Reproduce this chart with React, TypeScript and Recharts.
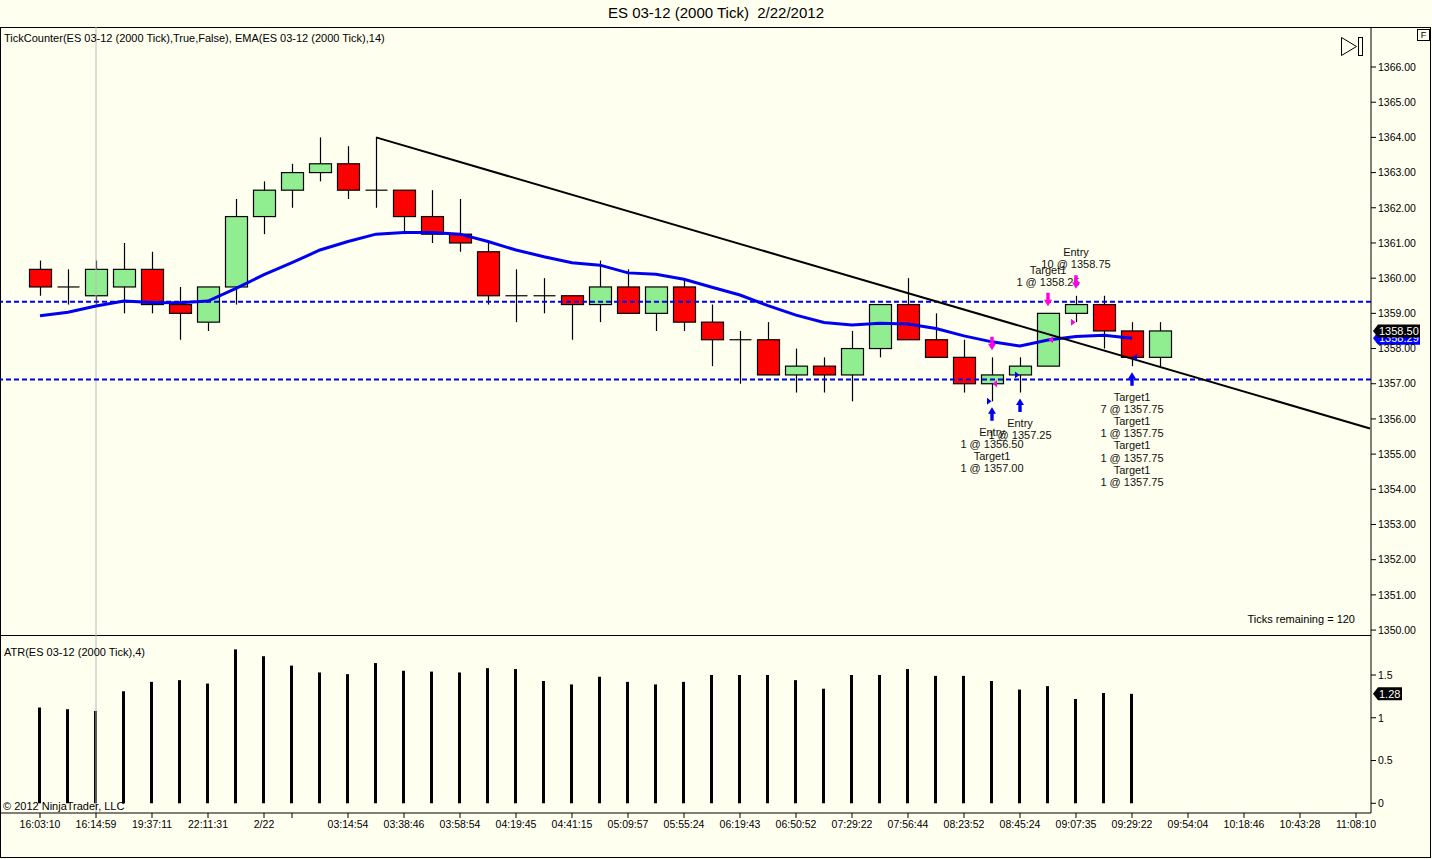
import React from 'react';
import { ComposedChart, Bar, Line, Scatter, XAxis, YAxis, ReferenceLine, ReferenceDot } from 'recharts';

// 2000 tick bars, ES 03-12
const opens = [
  1360.25, 1359.75, 1359.5, 1359.75, 1360.25, 1359.25, 1358.75, 1359.75, 1361.75, 1362.5,
  1363.0, 1363.25, 1362.5, 1362.5, 1361.75, 1361.25, 1360.75, 1359.5, 1359.5, 1359.5,
  1359.25, 1359.75, 1359.0, 1359.75, 1358.75, 1358.25, 1358.25, 1357.25, 1357.5, 1357.25,
  1358.0, 1359.25, 1358.25, 1357.75, 1357.0, 1357.25, 1357.5, 1359.0, 1359.25, 1358.5,
  1357.75,
];
const highs = [
  1360.5, 1360.25, 1360.5, 1361.0, 1360.75, 1359.75, 1359.75, 1362.25, 1362.75, 1363.25,
  1364.0, 1363.75, 1364.0, 1362.5, 1362.5, 1362.25, 1361.0, 1360.25, 1360.0, 1359.5,
  1360.5, 1360.25, 1359.75, 1360.0, 1359.25, 1358.5, 1358.75, 1358.0, 1357.75, 1358.5,
  1359.25, 1360.0, 1359.0, 1358.25, 1357.75, 1357.75, 1359.0, 1359.5, 1359.5, 1358.75,
  1358.75,
];
const lows = [
  1359.5, 1359.25, 1359.25, 1359.0, 1359.0, 1358.25, 1358.5, 1359.25, 1361.25, 1362.0,
  1362.75, 1362.25, 1362.0, 1361.25, 1361.0, 1360.75, 1359.25, 1358.75, 1359.0, 1358.25,
  1358.75, 1359.0, 1358.5, 1358.5, 1357.5, 1357.0, 1357.25, 1356.75, 1356.75, 1356.5,
  1357.75, 1358.25, 1357.75, 1356.75, 1356.5, 1356.75, 1357.5, 1358.75, 1358.0, 1357.5,
  1357.5,
];
const closes = [
  1359.75, 1359.75, 1360.25, 1360.25, 1359.25, 1359.0, 1359.75, 1361.75, 1362.5, 1363.0,
  1363.25, 1362.5, 1362.5, 1361.75, 1361.25, 1361.0, 1359.5, 1359.5, 1359.5, 1359.25,
  1359.75, 1359.0, 1359.75, 1358.75, 1358.25, 1358.25, 1357.25, 1357.5, 1357.25, 1358.0,
  1359.25, 1358.25, 1357.75, 1357.0, 1357.25, 1357.5, 1359.0, 1359.25, 1358.5, 1357.75,
  1358.5,
];
const emaValues = [
  1358.93, 1359.03, 1359.21, 1359.35, 1359.31, 1359.3, 1359.35, 1359.71, 1360.1, 1360.44,
  1360.8, 1361.04, 1361.25, 1361.3, 1361.3, 1361.25, 1361.04, 1360.8, 1360.61, 1360.44,
  1360.37, 1360.15, 1360.11, 1359.97, 1359.74, 1359.52, 1359.22, 1358.95, 1358.74, 1358.67,
  1358.72, 1358.7, 1358.57, 1358.36, 1358.19, 1358.07, 1358.24, 1358.34, 1358.38, 1358.29,
];
const atrValues = [
  1.12, 1.1, 1.08, 1.31, 1.42, 1.44, 1.4, 1.8, 1.72, 1.61,
  1.53, 1.51, 1.64, 1.55, 1.54, 1.53, 1.58, 1.57, 1.43, 1.39,
  1.48, 1.42, 1.39, 1.42, 1.5, 1.5, 1.5, 1.44, 1.34, 1.5,
  1.5, 1.57, 1.49, 1.49, 1.43, 1.33, 1.37, 1.22, 1.29, 1.28,
];

const tickBars = [1, 3, 5, 7, 9, 10, 12, 14, 16, 18, 20, 22, 24, 26, 28, 30, 32, 34, 36, 38, 40, 42, 44, 46, 48];
const tickLabels = [
  '16:03:10', '16:14:59', '19:37:11', '22:11:31', '2/22', '', '03:14:54', '03:38:46', '03:58:54',
  '04:19:45', '04:41:15', '05:09:57', '05:55:24', '06:19:43', '06:50:52', '07:29:22', '07:56:44',
  '08:23:52', '08:45:24', '09:07:35', '09:29:22', '09:54:04', '10:18:46', '10:43:28', '11:08:10',
];
const priceTicks = [1350, 1351, 1352, 1353, 1354, 1355, 1356, 1357, 1358, 1359, 1360, 1361, 1362, 1363, 1364, 1365, 1366];
const atrTicks = [0, 0.5, 1, 1.5];

const upperLevel = 1359.33;
const lowerLevel = 1357.12;
const trendStart = { bar: 13, price: 1364.0 };
const trendEnd = { bar: 48.5, price: 1355.73 };
const sessionBreakBar = 3;

// order markers: sell arrows sit above the bar high, buy arrows under the low
const sellMarks = [
  { bar: 35, lines: [] as string[] },
  { bar: 37, lines: ['Target1', '1 @ 1358.25'] },
  { bar: 38, lines: ['Entry', '10 @ 1358.75'] },
];
const buyMarks = [
  { bar: 35, lines: ['Entry', '1 @ 1356.50', 'Target1', '1 @ 1357.00'] },
  { bar: 36, lines: ['Entry', '1 @ 1357.25'] },
  {
    bar: 40,
    lines: ['Target1', '7 @ 1357.75', 'Target1', '1 @ 1357.75', 'Target1', '1 @ 1357.75', 'Target1', '1 @ 1357.75'],
  },
];
const fills = [
  { bar: 35, price: 1356.5, kind: 'entry', side: 'buy' },
  { bar: 35, price: 1357.0, kind: 'exit', side: 'sell' },
  { bar: 36, price: 1357.25, kind: 'entry', side: 'buy' },
  { bar: 37, price: 1358.25, kind: 'exit', side: 'sell' },
  { bar: 38, price: 1358.75, kind: 'entry', side: 'sell' },
  { bar: 40, price: 1357.75, kind: 'exit', side: 'buy' },
];

const XMIN = -0.393;
const XMAX = 48.536;
const PRICE_MIN = 1349.86;
const PRICE_MAX = 1367.137;
const ATR_MIN = -0.1135;
const ATR_MAX = 1.968;

const FONT = '"Liberation Sans", Arial, sans-serif';
const BG = '#fffff0';
const BLUE = '#0000f0';
const PINK = '#ff00e6';

const rows = opens.map((open, k) => ({
  i: k + 1,
  open,
  high: highs[k],
  low: lows[k],
  close: closes[k],
  range: [lows[k], highs[k]],
  ema: emaValues[k],
  atr: atrValues[k],
}));

const sellData = sellMarks.map(m => ({ ...m, i: m.bar, y: highs[m.bar - 1] }));
const buyData = buyMarks.map(m => ({ ...m, i: m.bar, y: lows[m.bar - 1] }));
const fillData = fills.map(f => ({ ...f, i: f.bar, y: f.price }));

const fmtTime = (v: number) => {
  const k = tickBars.indexOf(v);
  return k >= 0 ? tickLabels[k] : '';
};

const Candle = (props: any) => {
  const { x, y, width, height, payload } = props;
  if (x == null || !payload) return null;
  const cx = Math.round(x + width / 2) + 0.5;
  const top = Math.min(y, y + height);
  const h = Math.abs(height);
  const { open, close, high, low } = payload;
  const py = (v: number) => top + ((high - v) / (high - low)) * h;
  const bTop = py(Math.max(open, close));
  const bBot = py(Math.min(open, close));
  const half = 11;
  return (
    <g>
      <line x1={cx} x2={cx} y1={top} y2={top + h} stroke="#000" strokeWidth={1.2} />
      {open === close ? (
        <line x1={cx - half} x2={cx + half} y1={bTop} y2={bTop} stroke="#000" strokeWidth={1.2} />
      ) : (
        <rect
          x={cx - half}
          y={bTop}
          width={half * 2}
          height={bBot - bTop}
          fill={close > open ? '#90ee90' : '#ff0000'}
          stroke="#000"
          strokeWidth={1.2}
        />
      )}
    </g>
  );
};

const arrowPath = (cx: number, tip: number, dir: number) => {
  // dir = 1 points down, -1 points up
  const neck = tip - dir * 6.5;
  const end = tip - dir * 13.5;
  return `M${cx},${tip} L${cx - 4},${neck} L${cx - 1.7},${neck} L${cx - 1.7},${end} L${cx + 1.7},${end} L${cx + 1.7},${neck} L${cx + 4},${neck} Z`;
};

const SellMark = (props: any) => {
  const { cx, cy, payload } = props;
  const tip = cy - 7;
  const top = tip - 13.5;
  const lines: string[] = payload.lines;
  return (
    <g>
      {lines.map((t, k) => (
        <text key={k} x={cx} y={top - 11 - (lines.length - 1 - k) * 12} textAnchor="middle" dominantBaseline="central"
          fontSize={11} fontFamily={FONT} fill="#111">{t}</text>
      ))}
      <path d={arrowPath(cx, tip, 1)} fill={PINK} />
    </g>
  );
};

const BuyMark = (props: any) => {
  const { cx, cy, payload } = props;
  const tip = cy + 6;
  const bottom = tip + 13.5;
  const lines: string[] = payload.lines;
  return (
    <g>
      <path d={arrowPath(cx, tip, -1)} fill={BLUE} />
      {lines.map((t, k) => (
        <text key={k} x={cx} y={bottom + 11 + k * 12.2} textAnchor="middle" dominantBaseline="central"
          fontSize={11} fontFamily={FONT} fill="#111">{t}</text>
      ))}
    </g>
  );
};

const FillMark = (props: any) => {
  const { cx, cy, payload } = props;
  const color = payload.side === 'buy' ? BLUE : PINK;
  const pts = payload.kind === 'entry'
    ? `${cx - 5},${cy - 3.5} ${cx - 0.5},${cy} ${cx - 5},${cy + 3.5}`
    : `${cx + 5},${cy - 3.5} ${cx + 0.5},${cy} ${cx + 5},${cy + 3.5}`;
  return <polygon points={pts} fill={color} />;
};

const makeTag = (label: string, color: string, w: number) => (props: any) => {
  const { cx, cy } = props;
  const x0 = cx + 2;
  return (
    <g>
      <path d={`M${x0},${cy} L${x0 + 5},${cy - 6.5} L${x0 + 5 + w},${cy - 6.5} L${x0 + 5 + w},${cy + 6.5} L${x0 + 5},${cy + 6.5} Z`} fill={color} />
      <text x={x0 + 6} y={cy} dominantBaseline="central" fontSize={11} fontFamily={FONT} fill="#fff">{label}</text>
    </g>
  );
};

const axisTick = { fontSize: 10.5, fill: '#000', fontFamily: FONT };

export default function App() {
  const lastClose = closes[closes.length - 1];
  const lastEma = emaValues[emaValues.length - 1];
  const lastAtr = atrValues[atrValues.length - 1];
  return (
    <div style={{ position: 'absolute', left: 0, top: 0, width: 1432, height: 859, background: BG, fontFamily: FONT, overflow: 'hidden' }}>
      <div style={{ position: 'absolute', top: 4, left: 0, width: 1432, textAlign: 'center', fontSize: 15, color: '#000' }}>
        ES 03-12 (2000 Tick)&nbsp;&nbsp;2/22/2012
      </div>
      <div style={{ position: 'absolute', left: 0, top: 27, width: 1431, height: 831, border: '1px solid #000', boxSizing: 'border-box' }} />

      <div style={{ position: 'absolute', left: 0, top: 0 }}>
        <ComposedChart width={1432} height={636} data={rows} margin={{ top: 27, right: 0, bottom: 1, left: 1 }}>
          <XAxis type="number" dataKey="i" domain={[XMIN, XMAX]} allowDataOverflow hide />
          <YAxis
            orientation="right"
            width={61}
            domain={[PRICE_MIN, PRICE_MAX]}
            allowDataOverflow
            ticks={priceTicks}
            interval={0}
            tickSize={5}
            tickMargin={2}
            tick={axisTick}
            tickFormatter={(v: number) => v.toFixed(2)}
            axisLine={{ stroke: '#000' }}
            tickLine={{ stroke: '#000' }}
          />
          <ReferenceLine x={sessionBreakBar} stroke="#b8b8b8" strokeWidth={1} />
          <Bar dataKey="range" barSize={22} shape={Candle} isAnimationActive={false} />
          <Line dataKey="ema" stroke={BLUE} strokeWidth={3} dot={false} type="linear" isAnimationActive={false} />
          <ReferenceLine y={upperLevel} stroke={BLUE} strokeWidth={2} strokeDasharray="5 3" />
          <ReferenceLine y={lowerLevel} stroke={BLUE} strokeWidth={2} strokeDasharray="5 3" />
          <ReferenceLine
            segment={[{ x: trendStart.bar, y: trendStart.price }, { x: trendEnd.bar, y: trendEnd.price }]}
            stroke="#000"
            strokeWidth={2}
            ifOverflow="visible"
          />
          <Scatter data={sellData} dataKey="y" shape={SellMark} isAnimationActive={false} />
          <Scatter data={buyData} dataKey="y" shape={BuyMark} isAnimationActive={false} />
          <Scatter data={fillData} dataKey="y" shape={FillMark} isAnimationActive={false} />
          <ReferenceDot x={XMAX} y={lastEma} r={0} ifOverflow="visible" shape={makeTag(lastEma.toFixed(2), '#0000ff', 42)} />
          <ReferenceDot x={XMAX} y={lastClose} r={0} ifOverflow="visible" shape={makeTag(lastClose.toFixed(2), '#000', 42)} />
        </ComposedChart>
      </div>

      <div style={{ position: 'absolute', left: 0, top: 635, width: 1371, height: 1, background: '#000' }} />

      <div style={{ position: 'absolute', left: 0, top: 635 }}>
        <ComposedChart width={1432} height={224} data={rows} margin={{ top: 0, right: 0, bottom: 0, left: 1 }}>
          <XAxis
            type="number"
            dataKey="i"
            domain={[XMIN, XMAX]}
            allowDataOverflow
            ticks={tickBars}
            interval={0}
            tickFormatter={fmtTime}
            height={46}
            tickSize={5}
            tickMargin={3}
            tick={axisTick}
            axisLine={{ stroke: '#000' }}
            tickLine={{ stroke: '#000' }}
          />
          <YAxis
            orientation="right"
            width={61}
            domain={[ATR_MIN, ATR_MAX]}
            allowDataOverflow
            ticks={atrTicks}
            interval={0}
            tickSize={5}
            tickMargin={2}
            tick={axisTick}
            tickFormatter={(v: number) => String(v)}
            axisLine={{ stroke: '#000' }}
            tickLine={{ stroke: '#000' }}
          />
          <ReferenceLine x={sessionBreakBar} stroke="#b8b8b8" strokeWidth={1} />
          <Bar dataKey="atr" barSize={3} fill="#000" isAnimationActive={false} />
          <ReferenceDot x={XMAX} y={lastAtr} r={0} ifOverflow="visible" shape={makeTag(lastAtr.toFixed(2), '#000', 24)} />
        </ComposedChart>
      </div>

      <div style={{ position: 'absolute', left: 4, top: 32, fontSize: 11, color: '#000', whiteSpace: 'nowrap' }}>
        TickCounter(ES 03-12 (2000 Tick),True,False), EMA(ES 03-12 (2000 Tick),14)
      </div>
      <div style={{ position: 'absolute', left: 4, top: 646, fontSize: 11, color: '#000', whiteSpace: 'nowrap' }}>
        ATR(ES 03-12 (2000 Tick),4)
      </div>
      <div style={{ position: 'absolute', left: 3, top: 800, fontSize: 11, color: '#000', whiteSpace: 'nowrap' }}>
        © 2012 NinjaTrader, LLC
      </div>
      <div style={{ position: 'absolute', right: 1432 - 1355, top: 613, fontSize: 11, color: '#000', whiteSpace: 'nowrap' }}>
        Ticks remaining = 120
      </div>
      <div style={{ position: 'absolute', left: 1417, top: 29, width: 13, height: 12, border: '1px solid #000', boxSizing: 'border-box', fontSize: 9, lineHeight: '10px', textAlign: 'center' }}>
        F
      </div>
      <svg style={{ position: 'absolute', left: 1339, top: 35 }} width={26} height={24}>
        <path d="M2.5,2.5 L17.5,11.5 L2.5,20.5 Z" fill="none" stroke="#000" strokeWidth={1} />
        <rect x={19.5} y={2.5} width={4} height={18} fill="none" stroke="#000" strokeWidth={1} />
      </svg>
    </div>
  );
}
